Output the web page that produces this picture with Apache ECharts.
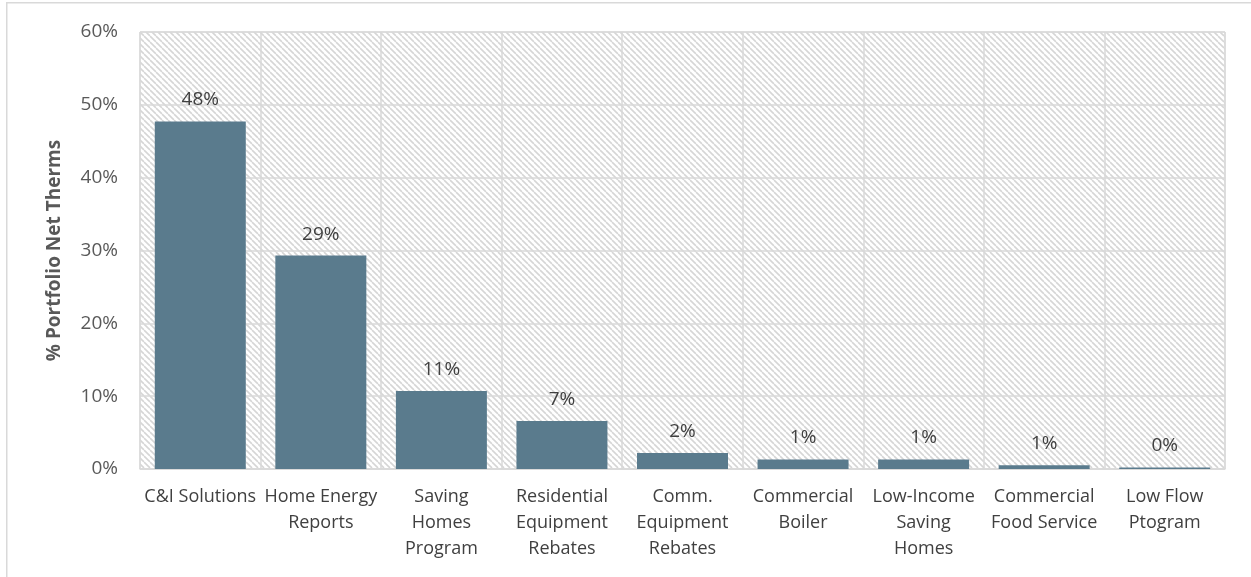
<!DOCTYPE html>
<html>
<head>
<meta charset="utf-8">
<script src="https://cdn.jsdelivr.net/npm/echarts@6/dist/echarts.min.js"></script>
<style>
  html, body { margin: 0; padding: 0; background: #ffffff; }
  #chart { width: 1251px; height: 577px; }
</style>
</head>
<body>
<div id="chart"></div>
<script>
// Program names (line breaks as shown under each bar)
const categories = [
  'C&I Solutions',
  'Home Energy\nReports',
  'Saving\nHomes\nProgram',
  'Residential\nEquipment\nRebates',
  'Comm.\nEquipment\nRebates',
  'Commercial\nBoiler',
  'Low-Income\nSaving\nHomes',
  'Commercial\nFood Service',
  'Low Flow\nPtogram'
];

// Share of portfolio net therms, in percent
const shares = [47.7, 29.3, 10.7, 6.6, 2.2, 1.3, 1.3, 0.5, 0.2];

// Value axis ticks
const yTicks = { min: 0, max: 60, interval: 10 };

// Diagonal hatch used as the plot background
function hatchTile() {
  const s = 6;
  const c = document.createElement('canvas');
  c.width = s; c.height = s;
  const g = c.getContext('2d');
  g.fillStyle = '#ffffff';
  g.fillRect(0, 0, s, s);
  g.strokeStyle = '#d6d6d6';
  g.lineWidth = 1.6;
  for (const x0 of [-s, 0, s]) {
    g.beginPath();
    g.moveTo(x0, 0);
    g.lineTo(x0 + s, s);
    g.stroke();
  }
  return c;
}

const chart = echarts.init(document.getElementById('chart'), null, { renderer: 'canvas' });

const textFont = 'Open Sans, Liberation Sans, sans-serif';

chart.setOption({
  animation: false,
  backgroundColor: '#ffffff',
  graphic: [{
    type: 'rect',
    left: 6, top: 2,
    shape: { width: 1300, height: 620 },
    style: { fill: 'transparent', stroke: '#d9d9d9', lineWidth: 1.5 },
    silent: true,
    z: -10
  }],
  grid: {
    left: 140, right: 26, top: 32, bottom: 108,
    show: true,
    backgroundColor: { image: hatchTile(), repeat: 'repeat' },
    borderColor: '#d9d9d9',
    borderWidth: 1
  },
  xAxis: {
    type: 'category',
    data: categories,
    axisLine: { show: true, lineStyle: { color: '#d9d9d9', width: 1.5 } },
    axisTick: { show: false },
    splitLine: { show: true, interval: 0, lineStyle: { color: '#d9d9d9', width: 1.5 } },
    axisLabel: {
      interval: 0,
      margin: 15,
      color: '#404040',
      fontFamily: textFont,
      fontSize: 18,
      lineHeight: 26
    }
  },
  yAxis: {
    type: 'value',
    min: yTicks.min,
    max: yTicks.max,
    interval: yTicks.interval,
    name: '% Portfolio Net Therms',
    nameLocation: 'middle',
    nameGap: 76,
    nameRotate: 90,
    nameTextStyle: {
      color: '#595959',
      fontFamily: textFont,
      fontSize: 19,
      fontWeight: 'bold'
    },
    axisLine: { show: false },
    axisTick: { show: false },
    splitLine: { show: true, lineStyle: { color: '#d9d9d9', width: 1.5 } },
    axisLabel: {
      margin: 22,
      color: '#595959',
      fontFamily: textFont,
      fontSize: 19,
      formatter: v => v + '%'
    }
  },
  series: [{
    type: 'bar',
    data: shares,
    barWidth: 91,
    itemStyle: { color: '#5a7b8d' },
    label: {
      show: true,
      position: 'top',
      distance: 12,
      color: '#404040',
      fontFamily: textFont,
      fontSize: 19,
      formatter: p => Math.round(p.value) + '%'
    }
  }]
});
</script>
</body>
</html>
